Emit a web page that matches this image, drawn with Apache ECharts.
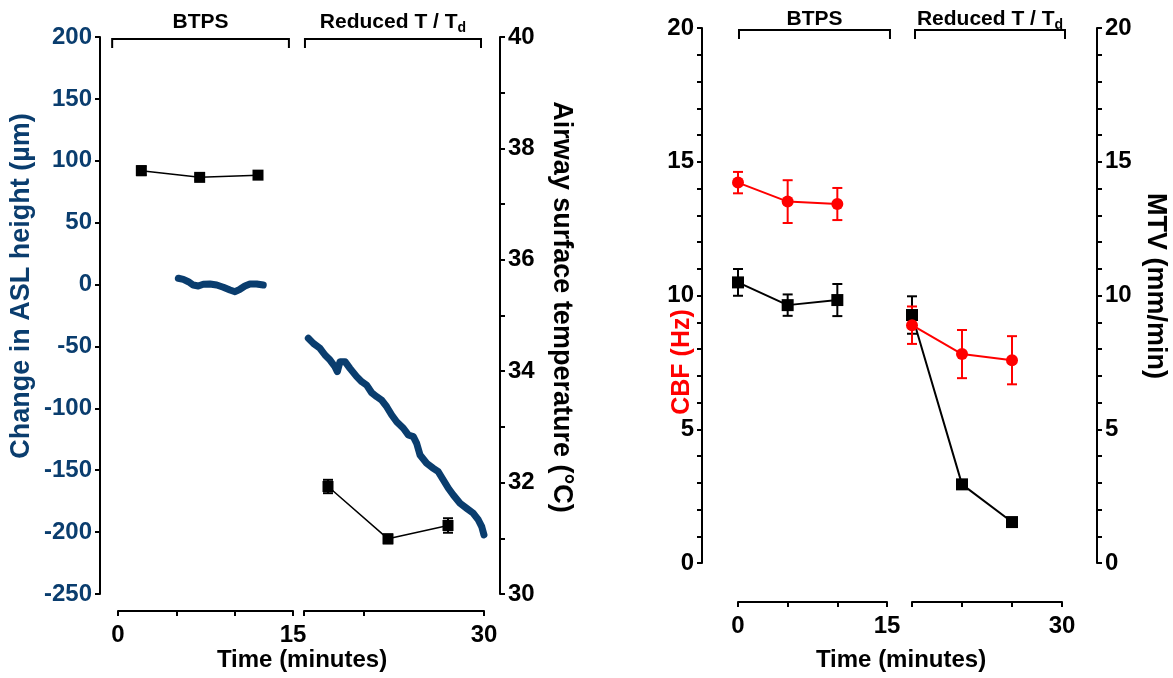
<!DOCTYPE html>
<html>
<head>
<meta charset="utf-8">
<script src="https://cdn.jsdelivr.net/npm/echarts@6/dist/echarts.min.js"></script>
<style>
  html, body { margin: 0; padding: 0; background: #fff; }
  #chart { width: 1173px; height: 678px; }
</style>
</head>
<body>
<div id="chart"></div>
<script>
// ---- ASL height trace (µm), BTPS and reduced temperature / dew point periods ----
const aslBtpsTime  = [5.17, 5.6, 6.03, 6.45, 6.88, 7.31, 7.88, 8.46, 9.03, 9.6, 10.03, 10.45, 10.88, 11.31, 11.88, 12.45];
const aslBtpsValue = [5.1, 4.2, 2.3, -0.4, -1.2, 0.2, 0.5, -0.4, -2.2, -4.4, -5.8, -3.8, -1.2, 0.5, 0.5, -0.4];
const aslCoolTime  = [15.36, 15.78, 16.33, 16.75, 17.17, 17.58, 17.78, 18.0, 18.42, 18.83, 19.39, 19.81, 20.22, 20.64,
                      21.06, 21.47, 21.89, 22.31, 22.72, 23.28, 23.69, 24.11, 24.39, 24.67, 25.22, 25.78, 26.19, 26.61,
                      27.03, 27.44, 28.0, 28.56, 29.11, 29.53, 29.81, 30.0];
const aslCoolValue = [-43.4, -47.5, -51.5, -56.9, -61.0, -66.4, -70.4, -62.3, -62.3, -67.7, -74.4, -78.5, -81.2, -87.4,
                      -90.6, -93.3, -98.7, -105.4, -110.8, -116.1, -121.5, -122.9, -128.3, -137.7, -144.4, -148.5, -151.2, -157.9,
                      -164.6, -170.0, -176.7, -180.8, -184.8, -190.2, -195.6, -202.3];

// ---- Airway surface temperature (°C), mean ± error ----
const tempBtpsTime = [2, 7, 12];
const tempBtps     = [37.60, 37.48, 37.52];
const tempBtpsErr  = [0.08, 0.05, 0.06];
const tempCoolTime = [17, 22, 27];
const tempCool     = [31.93, 30.99, 31.23];
const tempCoolErr  = [0.12, 0.08, 0.13];

// ---- Ciliary beat frequency (Hz) and mucus transport velocity (mm/min) ----
const cilTimeBtps = [0, 5, 10];
const cilTimeCool = [15, 20, 25];
const cbfBtps    = [14.22, 13.51, 13.42];
const cbfBtpsErr = [0.4, 0.8, 0.6];
const cbfCool    = [8.89, 7.81, 7.58];
const cbfCoolErr = [0.7, 0.9, 0.9];
const mtvBtps    = [10.49, 9.64, 9.83];
const mtvBtpsErr = [0.5, 0.4, 0.6];
const mtvCool    = [9.27, 2.94, 1.53];
const mtvCoolErr = [0.7, 0.1, 0.1];

// ---- Condition brackets above each panel: [from, to, label index] in minutes ----
const bracketLabels = ['{m|BTPS}', '{m|Reduced T / T}{s|d}'];
const leftBtpsBracket  = [-0.5, 14.65, 0];
const leftCoolBracket  = [15.08, 29.75, 1];
const rightBtpsBracket = [0.1, 15.3, 0];
const rightCoolBracket = [15.3, 30.3, 1];

const FONT = "'Liberation Sans', Arial, Helvetica, sans-serif";
const BLUE = '#0a3d6e';
const RED = '#ff0000';
const BLACK = '#000000';

const zip = (xs, ys) => xs.map((x, i) => [x, ys[i]]);
const errData = (xs, ys, es) => xs.map((x, i) => [x, ys[i] - es[i], ys[i] + es[i]]);

const axisLine = { show: true, onZero: false, lineStyle: { color: BLACK, width: 2 } };
const axisTick = { show: true, inside: false, length: 5, lineStyle: { color: BLACK, width: 2 } };
const labelStyle = (color) => ({ color: color, fontFamily: FONT, fontWeight: 'bold', fontSize: 24 });

function xAxisFor(gridIndex, min, max, offset, tickValues, labelValues) {
  return {
    type: 'value', gridIndex, min, max, interval: 5, position: 'bottom', offset,
    axisLine,
    axisTick: Object.assign({}, axisTick, { customValues: tickValues }),
    axisLabel: Object.assign(labelStyle(BLACK), { margin: 12, customValues: labelValues }),
    splitLine: { show: false }
  };
}

function yAxisFor(gridIndex, min, max, interval, position, offset, color, minorSplit, visible) {
  return {
    type: 'value', gridIndex, min, max, interval, position, offset, show: visible,
    axisLine,
    axisTick,
    minorTick: { show: minorSplit > 0, splitNumber: minorSplit || 5, length: 5, lineStyle: { color: BLACK, width: 2 } },
    axisLabel: Object.assign(labelStyle(color), { margin: 8 }),
    splitLine: { show: false },
    minorSplitLine: { show: false }
  };
}

function errorBarItem(color) {
  return function (params, api) {
    const x = api.value(0);
    const lo = api.coord([x, api.value(1)]);
    const hi = api.coord([x, api.value(2)]);
    const half = 5;
    const style = { stroke: color, lineWidth: 2, fill: null };
    return {
      type: 'group',
      children: [
        { type: 'line', shape: { x1: lo[0], y1: lo[1], x2: hi[0], y2: hi[1] }, style },
        { type: 'line', shape: { x1: lo[0] - half, y1: lo[1], x2: lo[0] + half, y2: lo[1] }, style },
        { type: 'line', shape: { x1: hi[0] - half, y1: hi[1], x2: hi[0] + half, y2: hi[1] }, style }
      ]
    };
  };
}

// Bracket with its condition label; labelGap is the space between label and bracket line
function bracketItem(yTop, shift, labelGap) {
  return function (params, api) {
    const a = api.coord([api.value(0), yTop]);
    const b = api.coord([api.value(1), yTop]);
    const y = a[1] + shift;
    return {
      type: 'group',
      children: [
        { type: 'polyline',
          shape: { points: [[a[0], y + 9], [a[0], y], [b[0], y], [b[0], y + 9]] },
          style: { stroke: BLACK, lineWidth: 2, fill: null } },
        { type: 'text',
          style: {
            x: (a[0] + b[0]) / 2, y: y - labelGap,
            text: bracketLabels[api.value(2)],
            align: 'center', verticalAlign: 'bottom',
            fill: BLACK, fontFamily: FONT, fontWeight: 'bold', fontSize: 21,
            rich: {
              m: { fontFamily: FONT, fontWeight: 'bold', fontSize: 21, lineHeight: 26, verticalAlign: 'middle', fill: BLACK },
              s: { fontFamily: FONT, fontWeight: 'bold', fontSize: 14, lineHeight: 14, verticalAlign: 'bottom', fill: BLACK }
            }
          } }
      ]
    };
  };
}

function errSeries(xi, yi, data, color) {
  return {
    type: 'custom', xAxisIndex: xi, yAxisIndex: yi, data, clip: false, z: 3,
    encode: { x: 0, y: [1, 2] },
    renderItem: errorBarItem(color), silent: true
  };
}

function pointSeries(xi, yi, data, color, symbol, size, width, z) {
  return {
    type: 'line', xAxisIndex: xi, yAxisIndex: yi, data,
    symbol, symbolSize: size, showSymbol: true,
    itemStyle: { color, borderWidth: 0 },
    lineStyle: { color, width },
    z, silent: true
  };
}

function traceSeries(xi, yi, data) {
  return {
    type: 'line', xAxisIndex: xi, yAxisIndex: yi, data,
    showSymbol: false, symbol: 'none', smooth: false, clip: false,
    lineStyle: { color: BLUE, width: 7, cap: 'round', join: 'round' },
    z: 2, silent: true
  };
}

function bracketSeries(xi, yi, yTop, item, labelGap) {
  return {
    type: 'custom', xAxisIndex: xi, yAxisIndex: yi, data: [item], clip: false, z: 5,
    encode: { x: [0, 1] },
    renderItem: bracketItem(yTop, 2, labelGap), silent: true
  };
}

const titleText = (x, y, text, rotation, color, size) => ({
  type: 'text', x, y, rotation,
  style: { text, fill: color, fontFamily: FONT, fontWeight: 'bold', fontSize: size || 27, align: 'center', verticalAlign: 'middle' }
});

const chart = echarts.init(document.getElementById('chart'), null, { renderer: 'canvas' });

chart.setOption({
  animation: false,
  backgroundColor: '#ffffff',
  grid: [
    { left: 118, top: 37, width: 175, height: 557 },
    { left: 304, top: 37, width: 180, height: 557 },
    { left: 738, top: 28, width: 149, height: 535 },
    { left: 912, top: 28, width: 150, height: 535 }
  ],
  xAxis: [
    xAxisFor(0, 0, 15, 17, [0, 5, 10, 15], [0, 15]),
    xAxisFor(1, 15, 30, 17, [15, 20, 30], [30]),
    xAxisFor(2, 0, 15, 39, [0, 5, 10, 15], [0, 15]),
    xAxisFor(3, 15, 30, 39, [15, 20, 25, 30], [30])
  ],
  yAxis: [
    yAxisFor(0, -250, 200, 50, 'left', 18, BLUE, 0, true),    // ASL height, visible
    yAxisFor(0, 30, 40, 2, 'right', 0, BLACK, 2, false),      // temperature, BTPS segment
    yAxisFor(1, -250, 200, 50, 'left', 0, BLUE, 0, false),    // ASL height, reduced segment
    yAxisFor(1, 30, 40, 2, 'right', 16, BLACK, 2, true),      // temperature, visible
    yAxisFor(2, 0, 20, 5, 'left', 36, BLACK, 5, true),        // CBF, visible
    yAxisFor(2, 0, 20, 5, 'right', 0, BLACK, 5, false),       // MTV, BTPS segment
    yAxisFor(3, 0, 20, 5, 'left', 0, BLACK, 5, false),        // CBF, reduced segment
    yAxisFor(3, 0, 20, 5, 'right', 35, BLACK, 5, true)        // MTV, visible
  ],
  series: [
    traceSeries(0, 0, zip(aslBtpsTime, aslBtpsValue)),
    traceSeries(1, 2, zip(aslCoolTime, aslCoolValue)),

    errSeries(0, 1, errData(tempBtpsTime, tempBtps, tempBtpsErr), BLACK),
    pointSeries(0, 1, zip(tempBtpsTime, tempBtps), BLACK, 'rect', 11, 1.5, 4),
    errSeries(1, 3, errData(tempCoolTime, tempCool, tempCoolErr), BLACK),
    pointSeries(1, 3, zip(tempCoolTime, tempCool), BLACK, 'rect', 11, 1.5, 4),

    errSeries(2, 5, errData(cilTimeBtps, mtvBtps, mtvBtpsErr), BLACK),
    pointSeries(2, 5, zip(cilTimeBtps, mtvBtps), BLACK, 'rect', 12, 2, 4),
    errSeries(2, 4, errData(cilTimeBtps, cbfBtps, cbfBtpsErr), RED),
    pointSeries(2, 4, zip(cilTimeBtps, cbfBtps), RED, 'circle', 12, 2, 6),

    errSeries(3, 7, errData(cilTimeCool, mtvCool, mtvCoolErr), BLACK),
    pointSeries(3, 7, zip(cilTimeCool, mtvCool), BLACK, 'rect', 12, 2, 4),
    errSeries(3, 6, errData(cilTimeCool, cbfCool, cbfCoolErr), RED),
    pointSeries(3, 6, zip(cilTimeCool, cbfCool), RED, 'circle', 12, 2, 6),

    bracketSeries(0, 0, 200, leftBtpsBracket, 4),
    bracketSeries(1, 2, 200, leftCoolBracket, 4),
    bracketSeries(2, 4, 20, rightBtpsBracket, -2),
    bracketSeries(3, 6, 20, rightCoolBracket, -2)
  ],
  graphic: [
    titleText(22, 286, 'Change in ASL height (µm)', Math.PI / 2, BLUE),
    titleText(561, 307, 'Airway surface temperature (°C)', -Math.PI / 2, BLACK),
    titleText(682, 362, 'CBF (Hz)', Math.PI / 2, RED, 25),
    titleText(1155, 286, 'MTV (mm/min)', -Math.PI / 2, BLACK),
    {
      type: 'text', x: 302, y: 660,
      style: { text: 'Time (minutes)', fill: BLACK, fontFamily: FONT, fontWeight: 'bold', fontSize: 24, align: 'center', verticalAlign: 'middle' }
    },
    {
      type: 'text', x: 901, y: 660,
      style: { text: 'Time (minutes)', fill: BLACK, fontFamily: FONT, fontWeight: 'bold', fontSize: 24, align: 'center', verticalAlign: 'middle' }
    }
  ]
});
</script>
</body>
</html>
